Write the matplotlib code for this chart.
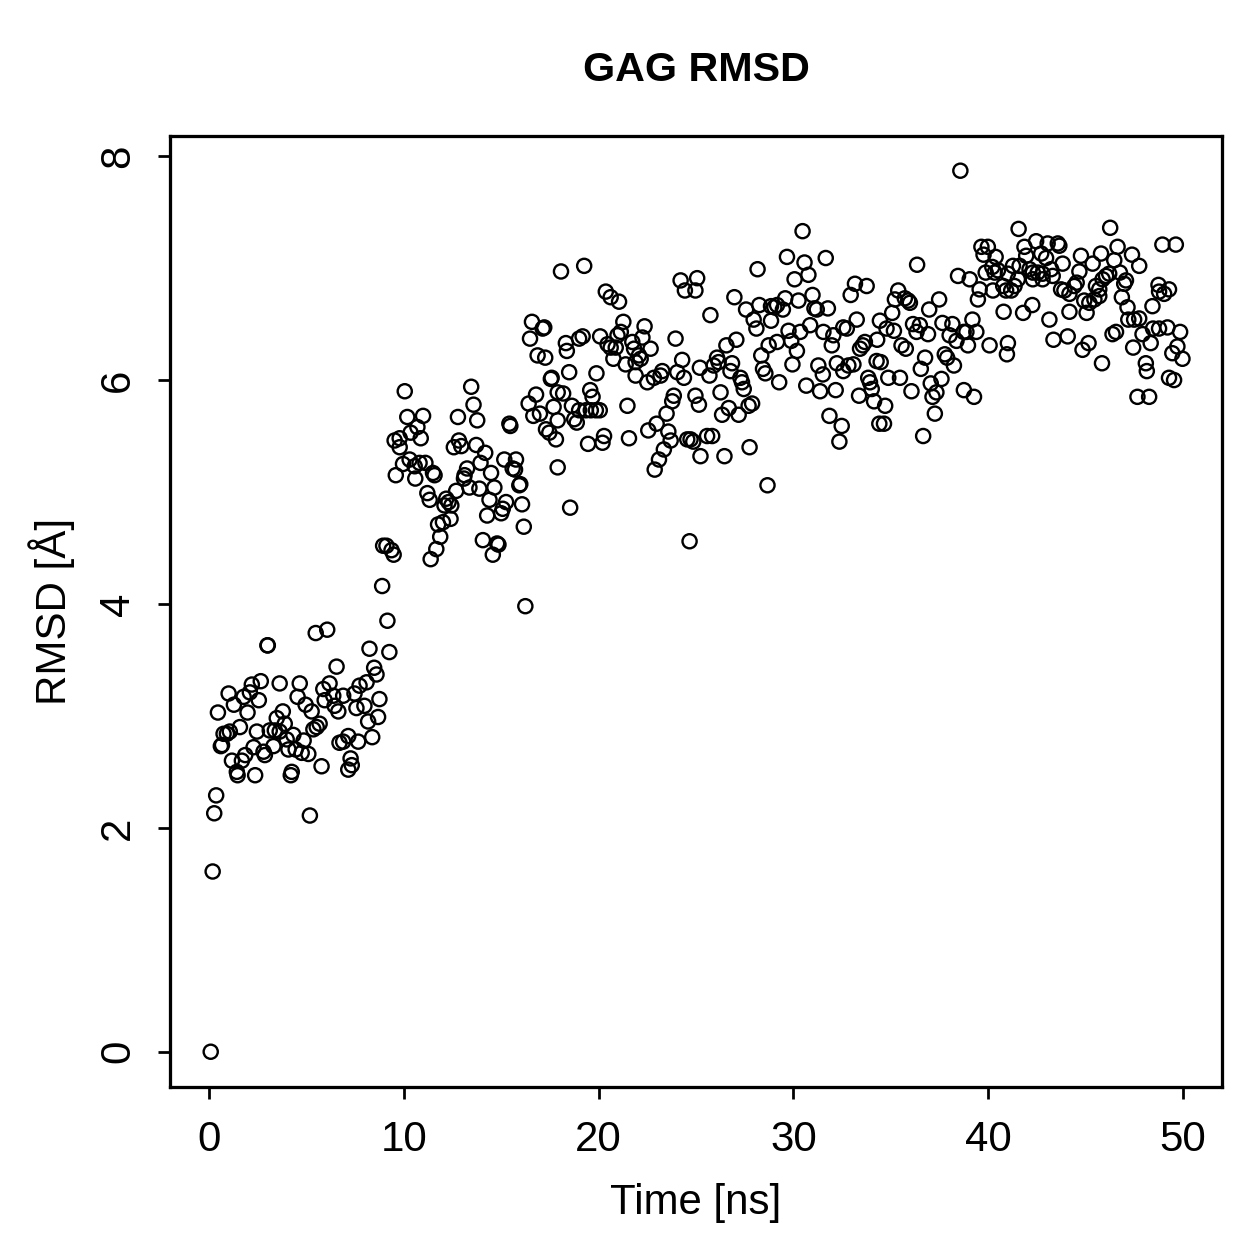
import numpy as np
import matplotlib
matplotlib.use("Agg")
import matplotlib.pyplot as plt

# (time [ns], RMSD [A]), grouped by time window
seg_0_9 = [
    (0.09, 0.00), (0.19, 1.61), (0.27, 2.13), (0.37, 2.29), (5.18, 2.11), (3.02, 3.63), (3.00, 3.63),
    (5.48, 3.74), (6.07, 3.77), (9.16, 3.85), (8.24, 3.60), (9.26, 3.57), (6.55, 3.44), (8.48, 3.43),
    (8.60, 3.37), (1.01, 3.20), (1.28, 3.10), (0.46, 3.03), (1.78, 3.17), (2.10, 3.21), (2.20, 3.28),
    (2.66, 3.31), (2.56, 3.14), (1.98, 3.03), (3.63, 3.29), (4.66, 3.29), (4.55, 3.17), (4.96, 3.10),
    (5.27, 3.04), (5.87, 3.24), (6.19, 3.29), (6.38, 3.18), (5.94, 3.14), (6.89, 3.18), (7.47, 3.20),
    (7.73, 3.27), (8.09, 3.30), (6.45, 3.09), (6.64, 3.04), (7.57, 3.07), (7.98, 3.09), (8.75, 3.15),
    (8.68, 2.99), (8.17, 2.95), (3.79, 3.04), (3.48, 2.98), (3.89, 2.93), (1.59, 2.90), (2.46, 2.86),
    (3.12, 2.87), (3.38, 2.87), (3.63, 2.86), (0.75, 2.84), (0.92, 2.84), (1.07, 2.86), (0.61, 2.73),
    (0.67, 2.74), (4.33, 2.83), (3.99, 2.79), (4.86, 2.78), (5.36, 2.88), (5.53, 2.90), (5.68, 2.93),
    (7.15, 2.82), (6.89, 2.77), (6.70, 2.76), (7.66, 2.77), (8.38, 2.81), (2.29, 2.72), (2.80, 2.68),
    (2.87, 2.65), (3.31, 2.73), (4.08, 2.70), (4.45, 2.70), (4.76, 2.67), (5.10, 2.66), (1.86, 2.65),
    (1.69, 2.60), (1.18, 2.60), (1.43, 2.50), (1.47, 2.47), (2.37, 2.47), (4.25, 2.50), (4.20, 2.47),
    (5.78, 2.55), (7.27, 2.62), (7.33, 2.56), (7.15, 2.52),
]

seg_9_18 = [
    (10.05, 5.90), (13.46, 5.94), (13.58, 5.78), (13.77, 5.64), (12.78, 5.67), (10.18, 5.67),
    (10.99, 5.68), (10.70, 5.58), (10.35, 5.53), (10.87, 5.48), (9.53, 5.46), (9.79, 5.48), (9.79, 5.40),
    (17.55, 6.01), (16.79, 5.87), (16.41, 5.79), (16.65, 5.68), (16.99, 5.70), (17.69, 5.76),
    (17.90, 5.89), (17.90, 5.64), (17.81, 5.47), (17.30, 5.56), (17.47, 5.53),
    (15.42, 5.61), (15.47, 5.59), (12.83, 5.46), (12.95, 5.41), (12.57, 5.40), (13.72, 5.42),
    (14.18, 5.35), (13.94, 5.26), (14.48, 5.17), (15.16, 5.29), (15.76, 5.29), (15.59, 5.21),
    (15.71, 5.20), (17.90, 5.22),
    (9.59, 5.15), (9.96, 5.25), (10.30, 5.29), (10.56, 5.23), (10.59, 5.12), (10.81, 5.26),
    (11.11, 5.26), (11.50, 5.17), (11.58, 5.15),
    (13.25, 5.21), (13.12, 5.15), (13.09, 5.12), (14.65, 5.04), (13.88, 5.03), (13.37, 5.04),
    (12.69, 5.01), (11.21, 4.99), (11.33, 4.93), (12.18, 4.94), (12.30, 4.91), (12.44, 4.88),
    (12.09, 4.88), (14.40, 4.93), (15.98, 5.07), (15.93, 5.06), (15.25, 4.91), (15.08, 4.85),
    (15.00, 4.81), (16.07, 4.89), (14.28, 4.79), (16.16, 4.69), (12.40, 4.76), (11.76, 4.71),
    (12.01, 4.73), (11.87, 4.60), (11.67, 4.49), (11.38, 4.40), (14.06, 4.57), (14.79, 4.54),
    (14.86, 4.53), (14.57, 4.44), (8.94, 4.52), (9.11, 4.52), (9.37, 4.48), (9.48, 4.44),
    (8.89, 4.16), (16.24, 3.98),
]

seg_16_25 = [
    (18.07, 6.97), (19.26, 7.02), (20.37, 6.79), (20.62, 6.74), (21.05, 6.70), (24.21, 6.89),
    (25.06, 6.91), (24.43, 6.80), (24.97, 6.80), (16.58, 6.52), (17.13, 6.46), (17.21, 6.47),
    (16.48, 6.37), (16.87, 6.22), (17.26, 6.20), (18.32, 6.33), (18.37, 6.26), (19.00, 6.37),
    (19.18, 6.39), (20.08, 6.39),
    (21.27, 6.52), (21.14, 6.43), (20.97, 6.40), (20.46, 6.32), (20.62, 6.29), (20.88, 6.29), (20.76, 6.19),
    (22.36, 6.48), (22.25, 6.38), (21.73, 6.34), (21.82, 6.28), (22.67, 6.28), (22.07, 6.22),
    (22.16, 6.19), (21.90, 6.16), (21.39, 6.14),
    (23.95, 6.37), (24.29, 6.18), (24.04, 6.07), (24.38, 6.02), (25.20, 6.11), (23.27, 6.08),
    (23.18, 6.04), (22.84, 6.02), (22.50, 5.98), (21.90, 6.04), (18.49, 6.07), (17.59, 6.02),
    (19.89, 6.06), (18.18, 5.88),
    (19.57, 5.91), (19.69, 5.85), (18.63, 5.77), (19.00, 5.73), (19.35, 5.73), (19.60, 5.73),
    (19.86, 5.73), (20.06, 5.73), (18.75, 5.65), (18.88, 5.62), (21.48, 5.77), (19.46, 5.43),
    (20.20, 5.44), (20.28, 5.50), (21.56, 5.48),
    (23.86, 5.86), (23.78, 5.81), (23.49, 5.70), (22.98, 5.61), (22.55, 5.55), (23.58, 5.54),
    (23.70, 5.46), (23.35, 5.38), (23.10, 5.29), (22.88, 5.20), (24.97, 5.86), (25.15, 5.78),
    (24.55, 5.47), (24.72, 5.47), (24.86, 5.45), (25.23, 5.32), (18.54, 4.86), (24.67, 4.56),
]

seg_25_34 = [
    (30.47, 7.33), (29.67, 7.10), (30.57, 7.05), (31.66, 7.09), (30.77, 6.94), (30.06, 6.90),
    (28.16, 6.99), (33.16, 6.86), (33.76, 6.84), (32.94, 6.76), (26.97, 6.74), (25.74, 6.58),
    (27.57, 6.63), (28.25, 6.67), (28.85, 6.66), (29.16, 6.67), (29.02, 6.65), (29.46, 6.63),
    (29.58, 6.73), (30.26, 6.71), (30.98, 6.76), (31.08, 6.64), (31.20, 6.63), (31.77, 6.64),
    (27.96, 6.54), (28.10, 6.46), (28.85, 6.53),
    (30.86, 6.49), (29.75, 6.44), (30.35, 6.43), (29.89, 6.35), (30.18, 6.26), (29.95, 6.14),
    (31.54, 6.43), (32.05, 6.40), (31.97, 6.31), (32.56, 6.47), (32.74, 6.46), (33.25, 6.54), (34.44, 6.53),
    (28.73, 6.31), (29.16, 6.34), (28.35, 6.22), (28.44, 6.10), (28.56, 6.06), (29.27, 5.98),
    (27.07, 6.36), (26.56, 6.31), (26.08, 6.20), (26.16, 6.16), (25.91, 6.13), (25.69, 6.04),
    (26.85, 6.15), (26.77, 6.08), (27.28, 6.02), (27.36, 5.98), (27.45, 5.92), (26.26, 5.89),
    (26.68, 5.75), (26.34, 5.69), (27.19, 5.69), (27.70, 5.77), (27.88, 5.79),
    (31.28, 6.13), (31.51, 6.05), (31.37, 5.90), (32.17, 5.91), (32.23, 6.15), (32.56, 6.08),
    (32.82, 6.13), (33.08, 6.14), (33.42, 6.28), (33.56, 6.31), (33.67, 6.34), (34.30, 6.36),
    (30.66, 5.95),
    (33.84, 6.02), (33.93, 5.98), (34.02, 5.92), (34.14, 5.81), (33.37, 5.86), (34.27, 6.17), (34.41, 5.61),
    (31.85, 5.68), (32.48, 5.59), (32.36, 5.45), (27.75, 5.40), (25.57, 5.50), (25.83, 5.50),
    (26.46, 5.32), (28.67, 5.06),
]

seg_34_41 = [
    (38.57, 7.87), (39.65, 7.19), (39.98, 7.19), (39.76, 7.12), (40.38, 7.10), (36.35, 7.03),
    (38.45, 6.93), (39.05, 6.90), (39.56, 6.81), (39.47, 6.72), (40.21, 7.01), (40.33, 6.96),
    (39.87, 6.96), (40.50, 6.98), (40.24, 6.80),
    (35.38, 6.80), (35.21, 6.72), (35.72, 6.73), (35.89, 6.71), (35.98, 6.69), (37.48, 6.72),
    (36.97, 6.63), (35.07, 6.60), (34.78, 6.46), (35.16, 6.44),
    (36.14, 6.50), (36.49, 6.49), (36.32, 6.43), (36.91, 6.41), (37.65, 6.51), (38.16, 6.50),
    (38.02, 6.40), (38.37, 6.35), (38.88, 6.43), (39.19, 6.54), (39.39, 6.43), (38.74, 6.43),
    (38.96, 6.31), (40.07, 6.31), (35.55, 6.31), (35.77, 6.28), (34.48, 6.16), (36.76, 6.20),
    (36.54, 6.10), (37.77, 6.23), (37.89, 6.20), (38.24, 6.13), (34.87, 6.02), (35.47, 6.02),
    (36.06, 5.90), (37.05, 5.97), (37.60, 6.01), (37.34, 5.89), (37.14, 5.85), (38.75, 5.91),
    (39.27, 5.85), (34.71, 5.77), (37.26, 5.70), (34.65, 5.61), (36.66, 5.50),
]

seg_40_50 = [
    (41.56, 7.35), (46.26, 7.36), (48.94, 7.21), (49.63, 7.21),
    (41.86, 7.19), (42.46, 7.24), (43.05, 7.22), (43.57, 7.22), (43.65, 7.20), (42.72, 7.13),
    (42.97, 7.09), (41.95, 7.11), (41.61, 7.02), (41.27, 7.02), (41.01, 6.95), (42.12, 6.99),
    (42.29, 6.96), (42.54, 6.96), (42.79, 6.95), (43.23, 6.99), (43.31, 6.93), (43.82, 7.04),
    (42.79, 6.90), (42.29, 6.90), (41.52, 6.90), (41.35, 6.84), (40.92, 6.80), (41.18, 6.80), (40.77, 6.84),
    (44.76, 7.11), (45.36, 7.04), (45.79, 7.13), (46.47, 7.07), (46.64, 7.19), (47.38, 7.12),
    (47.75, 7.02), (46.76, 6.96), (47.07, 6.89), (46.98, 6.86), (46.86, 6.74), (47.15, 6.65),
    (44.68, 6.97), (44.54, 6.87), (44.42, 6.84), (44.17, 6.77), (43.91, 6.80), (43.74, 6.81),
    (45.53, 6.84), (45.70, 6.81), (45.87, 6.90), (46.05, 6.93), (46.21, 6.95), (45.70, 6.75),
    (45.45, 6.72), (45.19, 6.69), (44.93, 6.71), (45.05, 6.60), (44.17, 6.61),
    (42.26, 6.67), (41.79, 6.60), (43.14, 6.54), (40.79, 6.61),
    (41.01, 6.33), (40.96, 6.23), (43.35, 6.36), (44.08, 6.39), (44.84, 6.27), (45.15, 6.33),
    (45.84, 6.15), (46.38, 6.41), (46.56, 6.43), (47.44, 6.29), (47.92, 6.41), (48.34, 6.33),
    (48.43, 6.66), (48.74, 6.85), (49.03, 6.77), (49.28, 6.81), (48.77, 6.79), (47.19, 6.54),
    (47.49, 6.54), (47.75, 6.55), (48.46, 6.46), (48.77, 6.46), (49.20, 6.47), (49.85, 6.43),
    (49.71, 6.30), (49.45, 6.24), (49.97, 6.19), (48.09, 6.15), (48.14, 6.08), (49.28, 6.02),
    (49.54, 6.00), (47.66, 5.85), (48.26, 5.85),
]

x_ticks = [0, 10, 20, 30, 40, 50]
y_ticks = [0, 2, 4, 6, 8]


def main():
    pts = np.array(seg_0_9 + seg_9_18 + seg_16_25 + seg_25_34 + seg_34_41 + seg_40_50)
    time_ns, rmsd = pts[:, 0], pts[:, 1]

    plt.rcParams['font.family'] = ['Liberation Sans', 'DejaVu Sans']
    fig = plt.figure(figsize=(1259 / 180, 1259 / 180), dpi=180)
    ax = fig.add_axes([170 / 1259, 1 - 1087 / 1259, (1222 - 170) / 1259, (1087 - 136) / 1259])

    ax.scatter(time_ns, rmsd, s=32, facecolors='none', edgecolors='black', linewidths=0.95)

    ax.set_xlim(-2, 52)
    ax.set_ylim(-0.315, 8.18)
    ax.set_xticks(x_ticks)
    ax.set_yticks(y_ticks)
    ax.set_yticklabels([str(v) for v in y_ticks], rotation=90, va='center')
    ax.tick_params(axis='both', direction='out', length=4.8, width=1.1, labelsize=16.8)
    ax.tick_params(axis='x', pad=8.5)
    ax.tick_params(axis='y', pad=8)
    for side in ax.spines.values():
        side.set_linewidth(1.3)

    fig.text(696 / 1259, 1 - 70 / 1259, "GAG RMSD", ha='center', va='center',
             fontsize=16.5, fontweight='bold')
    fig.text(696 / 1259, 1 - 1203 / 1259, "Time [ns]", ha='center', va='center', fontsize=16.8)
    fig.text(52 / 1259, 1 - 611 / 1259, "RMSD [Å]", ha='center', va='center',
             rotation=90, fontsize=16.8)

    fig.savefig("out.png", dpi=180)


if __name__ == "__main__":
    main()
